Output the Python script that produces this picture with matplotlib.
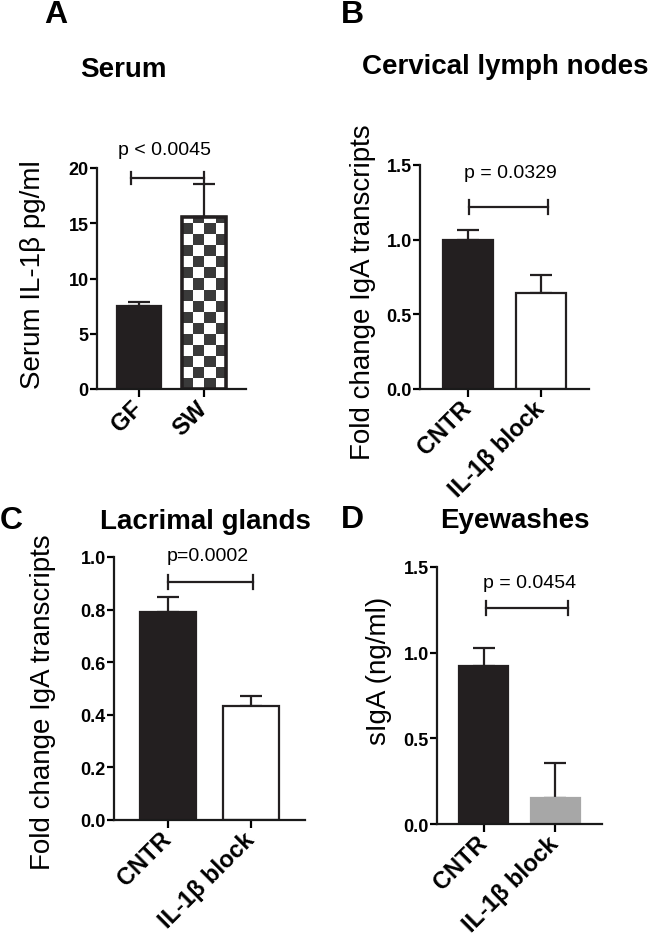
import numpy as np
import matplotlib
matplotlib.use("Agg")
import matplotlib.pyplot as plt

plt.rcParams['font.family'] = ['Liberation Sans', 'DejaVu Sans']

# ---------------- data ----------------
a_groups = ["GF", "SW"]
a_means = [7.5, 15.6]
a_err = [0.4, 2.95]

b_groups = ["CNTR", "IL-1β block"]
b_means = [1.0, 0.645]
b_err = [0.065, 0.12]

c_groups = ["CNTR", "IL-1β block"]
c_means = [0.79, 0.435]
c_err = [0.057, 0.037]

d_groups = ["CNTR", "IL-1β block"]
d_means = [0.92, 0.15]
d_err = [0.105, 0.205]

a_ticks = [0, 5, 10, 15, 20]
b_ticks = [0.0, 0.5, 1.0, 1.5]
c_ticks = [0.0, 0.2, 0.4, 0.6, 0.8, 1.0]
d_ticks = [0.0, 0.5, 1.0, 1.5]

a_p = "p < 0.0045"
b_p = "p = 0.0329"
c_p = "p=0.0002"
d_p = "p = 0.0454"

W, H = 652, 937
fig = plt.figure(figsize=(W / 100, H / 100), dpi=100)

DARK = "#231f20"
LW = 1.6


def px(x, y):
    return x / W, 1 - y / H


def make_ax(left, right, top, bottom):
    return fig.add_axes([left / W, 1 - bottom / H, (right - left) / W, (bottom - top) / H])


def style_ax(ax, ticks, ylim, groups, fmt):
    ax.set_xlim(-0.65, 1.65)
    ax.set_ylim(*ylim)
    for s in ["top", "right"]:
        ax.spines[s].set_visible(False)
    for s in ["left", "bottom"]:
        ax.spines[s].set_linewidth(LW)
        ax.spines[s].set_color("#1a1a1a")
    ax.set_yticks(ticks)
    ax.set_yticklabels([fmt.format(t) for t in ticks], fontsize=13, fontweight="bold")
    ax.set_xticks([0, 1])
    ax.set_xticklabels(groups, rotation=45, ha="right", va="center",
                       rotation_mode="anchor", fontsize=17, fontweight="bold")
    ax.tick_params(axis="y", length=5, width=LW, pad=1)
    ax.tick_params(axis="x", length=6, width=LW, pad=5)


def texts(ylabel, ylab_xy, title, title_xy, letter, letter_xy, ptxt, p_xy):
    fig.text(*px(*ylab_xy), ylabel, fontsize=20, rotation=90, ha="center", va="center")
    fig.text(*px(*title_xy), title, fontsize=20, fontweight="bold", ha="center",
             va="baseline")
    fig.text(*px(*letter_xy), letter, fontsize=23, fontweight="bold", ha="center",
             va="baseline")
    fig.text(*px(*p_xy), ptxt, fontsize=14, ha="center", va="baseline")


def bracket(ax, x0, x1, y, cap):
    ax.plot([x0, x1], [y, y], color=DARK, lw=LW, clip_on=False)
    ax.plot([x0, x0], [y - cap, y + cap], color=DARK, lw=LW, clip_on=False)
    ax.plot([x1, x1], [y - cap, y + cap], color=DARK, lw=LW, clip_on=False)


def bars(ax, means, errs, colors, edges):
    x = np.arange(len(means))
    bc = ax.bar(x, means, width=0.68, color=colors, edgecolor=edges, linewidth=LW,
                zorder=2)
    ax.errorbar(x, means, yerr=[np.zeros(len(errs)), errs], fmt="none",
                ecolor=DARK, elinewidth=LW, capsize=8, capthick=LW, zorder=1)
    return bc


# ---------- Panel A ----------
axA = make_ax(97, 246, 169, 390)
bcA = bars(axA, a_means, a_err, [DARK, "white"], [DARK, DARK])
style_ax(axA, a_ticks, (0, 20), a_groups, "{:.0f}")
texts("Serum IL-1β pg/ml", (33, 275), "Serum", (123, 77), "A", (56, 23),
      a_p, (164, 155))
# checkerboard fill for SW bar
fig.canvas.draw()
p = bcA.patches[1]
bx0, bw, bh = p.get_x(), p.get_width(), p.get_height()
(px0, py0) = axA.transData.transform((bx0, 0))
(px1, py1) = axA.transData.transform((bx0 + bw, bh))
ncol = 4
cell = (px1 - px0) / ncol
nrow = int(np.ceil((py1 - py0) / cell))
checker = (np.add.outer(np.arange(nrow), np.arange(ncol)) % 2).astype(float)
top_val = axA.transData.inverted().transform((px0, py0 + nrow * cell))[1]
img = axA.imshow(checker, cmap=matplotlib.colors.ListedColormap(["#3a3a3a", "white"]),
                 extent=(bx0, bx0 + bw, 0, top_val), origin="lower", aspect="auto",
                 interpolation="nearest", zorder=2.1)
img.set_clip_path(p)
p2 = plt.Rectangle((bx0, 0), bw, bh, fill=False, edgecolor=DARK, lw=LW * 1.6, zorder=2.2)
axA.add_patch(p2)
axA.set_xlim(-0.65, 1.65)
axA.set_ylim(0, 20)
bracket(axA, -0.13, 1.0, 19.1, 0.55)

# ---------- Panel B ----------
axB = make_ax(420, 589, 166, 390)
bars(axB, b_means, b_err, [DARK, "white"], [DARK, DARK])
style_ax(axB, b_ticks, (0, 1.5), b_groups, "{:.1f}")
texts("Fold change IgA transcripts", (363, 292), "Cervical lymph nodes", (505, 74),
      "B", (352, 23), b_p, (510, 178))
bracket(axB, 0.02, 1.09, 1.22, 0.045)

# ---------- Panel C ----------
axC = make_ax(114, 305, 558, 821)
bars(axC, c_means, c_err, [DARK, "white"], [DARK, DARK])
style_ax(axC, c_ticks, (0, 1.0), c_groups, "{:.1f}")
texts("Fold change IgA transcripts", (43, 702), "Lacrimal glands", (205, 529),
      "C", (11, 529), c_p, (208, 561))
bracket(axC, 0.0, 1.02, 0.905, 0.025)

# ---------- Panel D ----------
axD = make_ax(437, 602, 568, 825)
bars(axD, d_means, d_err, [DARK, "#a7a7a7"], [DARK, "#a7a7a7"])
style_ax(axD, d_ticks, (0, 1.5), d_groups, "{:.1f}")
texts("sIgA (ng/ml)", (379, 671), "Eyewashes", (515, 528), "D", (352, 528),
      d_p, (530, 588))
bracket(axD, 0.03, 1.17, 1.26, 0.04)

fig.savefig("out.png", dpi=100)
